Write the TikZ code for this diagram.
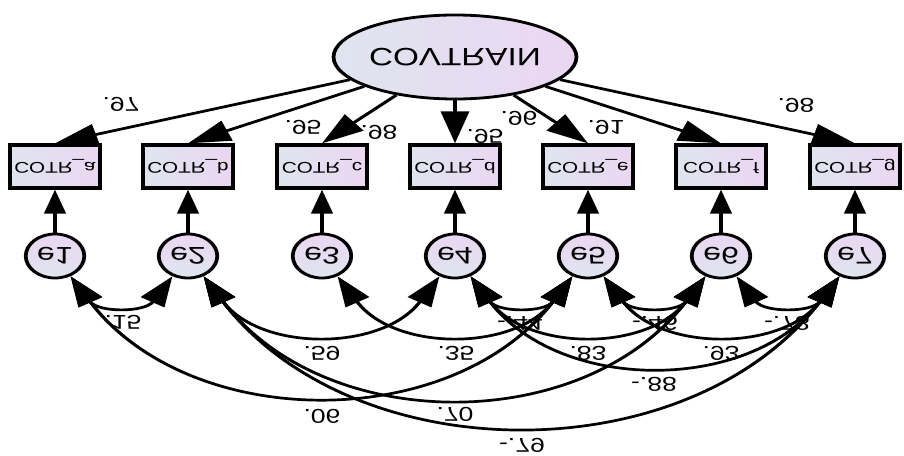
\documentclass[tikz,border=0pt]{standalone}
\usepackage{fontspec}
\usepackage{graphicx}
\setmainfont{Liberation Sans}
\usetikzlibrary{arrows.meta,shapes.geometric}
\definecolor{fillblue}{HTML}{DFE5EF}
\definecolor{filllav}{HTML}{EBD6F2}
% upside-down text, as in the mirrored path diagram
\newcommand\flipv[1]{\scalebox{1}[-1]{#1}}
\begin{document}
\begin{tikzpicture}
\useasboundingbox (0,0) rectangle (904pt,-455pt);
\begin{scope}[transform canvas={xscale=1.33}, x=0.75188pt, y=-1pt,
  latent/.style={ellipse, draw, line width=2.8pt, minimum width=138pt, minimum height=84pt,
    inner sep=0pt, left color=fillblue, right color=filllav, font=\fontsize{25}{25}\selectfont},
  obs/.style={rectangle, draw, line width=3.3pt, minimum width=68pt, minimum height=43pt,
    inner sep=0pt, left color=fillblue, right color=filllav, font=\fontsize{15.5}{15.5}\selectfont},
  err/.style={circle, draw, line width=2.8pt, minimum size=44pt, inner sep=0pt,
    top color=filllav, bottom color=fillblue, font=\fontsize{24}{24}\selectfont},
  reg/.style={line width=2.7pt, -{Triangle[length=32pt,width=21pt]}},
  ereg/.style={line width=2.7pt, -{Triangle[length=24pt,width=16pt]}},
  cov/.style={line width=2.7pt, {Triangle[length=30pt,width=20pt]}-{Triangle[length=30pt,width=20pt]}},
  num/.style={font=\fontsize{20}{20}\selectfont, inner sep=0pt}]

% latent factor
\node[latent] (cov) at (455,57) {\flipv{COVTRAIN}};

% indicators
\node[obs] (b1) at (55,166.5)  {\flipv{COTR\_a}};
\node[obs] (b2) at (188,166.5) {\flipv{COTR\_b}};
\node[obs] (b3) at (322,166.5) {\flipv{COTR\_c}};
\node[obs] (b4) at (455,166.5) {\flipv{COTR\_d}};
\node[obs] (b5) at (588,166.5) {\flipv{COTR\_e}};
\node[obs] (b6) at (721,166.5) {\flipv{COTR\_f}};
\node[obs] (b7) at (855,166.5) {\flipv{COTR\_g}};

% error terms
\node[err] (e1) at (55,256)  {\flipv{e1}};
\node[err] (e2) at (188,256) {\flipv{e2}};
\node[err] (e3) at (322,256) {\flipv{e3}};
\node[err] (e4) at (455,256) {\flipv{e4}};
\node[err] (e5) at (588,256) {\flipv{e5}};
\node[err] (e6) at (721,256) {\flipv{e6}};
\node[err] (e7) at (855,256) {\flipv{e7}};

% loadings
\foreach \i in {1,...,7} {
  \draw[reg] (cov) -- (b\i.north);
  \draw[ereg] (e\i) -- (b\i);
}

% error covariances
\draw[cov] (e1.-60) to[out=-60,in=-120,distance=42pt] (e2.-120);
\draw[cov] (e4.-60) to[out=-60,in=-120,distance=42pt] (e5.-120);
\draw[cov] (e5.-60) to[out=-60,in=-120,distance=42pt] (e6.-120);
\draw[cov] (e6.-60) to[out=-60,in=-120,distance=42pt] (e7.-120);
\draw[cov] (e2.-60) to[out=-60,in=-120,distance=87pt] (e4.-120);
\draw[cov] (e3.-60) to[out=-60,in=-120,distance=87pt] (e5.-120);
\draw[cov] (e4.-60) to[out=-60,in=-120,distance=87pt] (e6.-120);
\draw[cov] (e5.-60) to[out=-60,in=-120,distance=87pt] (e7.-120);
\draw[cov] (e4.-60) to[out=-60,in=-120,distance=135pt] (e7.-120);
\draw[cov] (e1.-60) to[out=-60,in=-120,distance=181pt] (e5.-120);
\draw[cov] (e2.-60) to[out=-60,in=-120,distance=184pt] (e6.-120);
\draw[cov] (e2.-60) to[out=-60,in=-120,distance=227pt] (e7.-120);

% loading values
\node[num] (l1) at (121,104) {\flipv{.97}};
\node[num] (l2) at (303,127) {\flipv{.95}};
\node[num] (l3) at (379,132) {\flipv{.98}};
\node[num] (l4) at (485,136) {\flipv{.95}};
\node[num] (l5) at (519,118) {\flipv{.96}};
\node[num] (l6) at (606,127) {\flipv{.91}};
\node[num] (l7) at (796,105) {\flipv{.98}};

% covariance values
\node[num] (c12) at (123,322) {\flipv{.15}};
\node[num] (c45) at (520,323) {\flipv{-.44}};
\node[num] (c56) at (655,323) {\flipv{-.46}};
\node[num] (c67) at (787,323) {\flipv{-.78}};
\node[num] (c24) at (322,353) {\flipv{.59}};
\node[num] (c35) at (456,353) {\flipv{.35}};
\node[num] (c46) at (588,353) {\flipv{.83}};
\node[num] (c57) at (721,353) {\flipv{.93}};
\node[num] (c47) at (654,384) {\flipv{-.88}};
\node[num] (c15) at (322,416) {\flipv{.06}};
\node[num] (c26) at (455,414) {\flipv{.70}};
\node[num] (c27) at (522,445) {\flipv{-.79}};
\end{scope}
\end{tikzpicture}
\end{document}
